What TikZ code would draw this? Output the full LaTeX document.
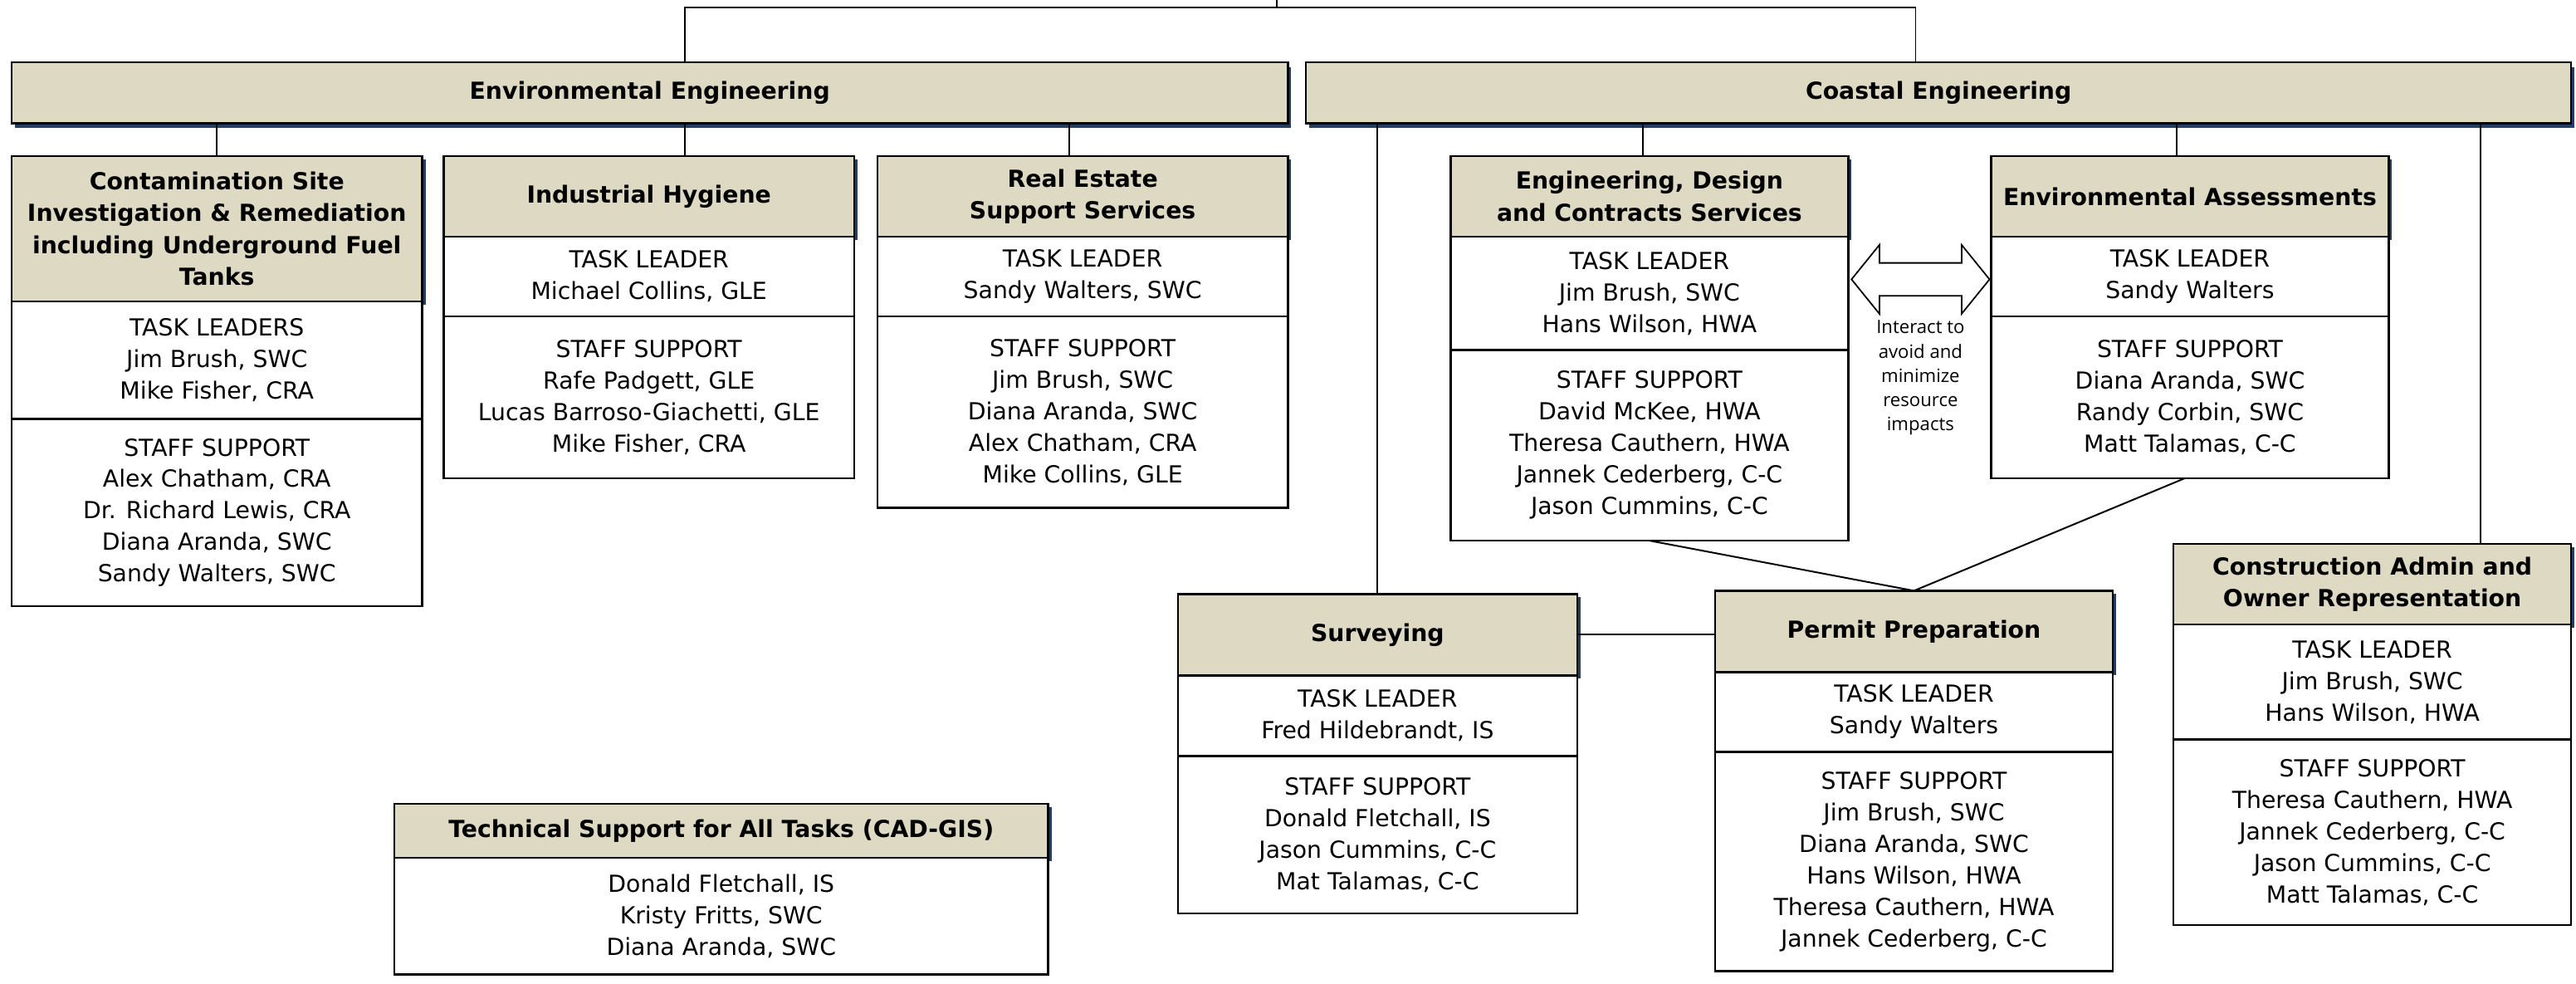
\documentclass[tikz,border=0pt]{standalone}
\usepackage{fontspec}
\setmainfont{DejaVu Sans}
\newfontfamily\notefont{Open Sans}
\usetikzlibrary{shadows}
\definecolor{hdrfill}{HTML}{DDD9C3}
\definecolor{navy}{HTML}{243F60}
\tikzset{
  box/.style={draw=black, line width=1.2pt, inner sep=2pt, outer sep=0pt, align=center, anchor=north west},
  hdr/.style={box, fill=hdrfill, font=\bfseries\fontsize{14.3}{19.4}\selectfont,
    drop shadow={fill=navy, opacity=1, shadow xshift=2pt, shadow yshift=-2pt}},
  mainhdr/.style={box, fill=hdrfill, font=\bfseries\fontsize{14.3}{19.4}\selectfont,
    drop shadow={fill=navy, opacity=1, shadow xshift=2pt, shadow yshift=-3pt}},
  body/.style={box, fill=white, font=\fontsize{14.3}{19.2}\selectfont},
  link/.style={draw=black, line width=1pt},
  note/.style={align=center, inner sep=0pt, font=\notefont\fontsize{11.2}{14.8}\selectfont},
  blockarrow/.style={draw=black, line width=0.9pt, fill=white, line join=miter},
}
\begin{document}
\begin{tikzpicture}[x=1pt, y=-1pt]
\useasboundingbox (0,0) rectangle (1568,598.3);

% top level
\node[mainhdr, minimum width=777, minimum height=37] (ee) at (7,38) {Environmental Engineering};
\node[mainhdr, minimum width=770, minimum height=37] (ce) at (795,38) {Coastal Engineering};

% Environmental Engineering children
\node[hdr, minimum width=250, minimum height=88.5] (csh) at (7,95)
  {Contamination Site\\Investigation \& Remediation\\including Underground Fuel\\Tanks};
\node[body, minimum width=250, minimum height=71.5] (cst) at (csh.south west)
  {TASK LEADERS\\Jim Brush, SWC\\Mike Fisher, CRA};
\node[body, minimum width=250, minimum height=114] (css) at (cst.south west)
  {STAFF SUPPORT\\Alex Chatham, CRA\\Dr. Richard Lewis, CRA\\Diana Aranda, SWC\\Sandy Walters, SWC};

\node[hdr, minimum width=250, minimum height=49] (ihh) at (270,95) {Industrial Hygiene};
\node[body, minimum width=250, minimum height=48.5] (iht) at (ihh.south west)
  {TASK LEADER\\Michael Collins, GLE};
\node[body, minimum width=250, minimum height=98.5] (ihs) at (iht.south west)
  {STAFF SUPPORT\\Rafe Padgett, GLE\\Lucas Barroso-Giachetti, GLE\\Mike Fisher, CRA};

\node[hdr, minimum width=250, minimum height=49] (reh) at (534,95) {Real Estate\\Support Services};
\node[body, minimum width=250, minimum height=48.5] (ret) at (reh.south west)
  {TASK LEADER\\Sandy Walters, SWC};
\node[body, minimum width=250, minimum height=116.5] (res) at (ret.south west)
  {STAFF SUPPORT\\Jim Brush, SWC\\Diana Aranda, SWC\\Alex Chatham, CRA\\Mike Collins, GLE};

% Coastal Engineering children
\node[hdr, minimum width=242, minimum height=49] (edch) at (883,95) {Engineering, Design\\and Contracts Services};
\node[body, minimum width=242, minimum height=69] (edct) at (edch.south west)
  {TASK LEADER\\Jim Brush, SWC\\Hans Wilson, HWA};
\node[body, minimum width=242, minimum height=116] (edcs) at (edct.south west)
  {STAFF SUPPORT\\David McKee, HWA\\Theresa Cauthern, HWA\\Jannek Cederberg, C-C\\Jason Cummins, C-C};

\node[hdr, minimum width=242, minimum height=49] (eah) at (1212,95) {Environmental Assessments};
\node[body, minimum width=242, minimum height=48.5] (eat) at (eah.south west)
  {TASK LEADER\\Sandy Walters};
\node[body, minimum width=242, minimum height=98.5] (eas) at (eat.south west)
  {STAFF SUPPORT\\Diana Aranda, SWC\\Randy Corbin, SWC\\Matt Talamas, C-C};

\node[hdr, minimum width=243, minimum height=49.5] (svh) at (717,361.5) {Surveying};
\node[body, minimum width=243, minimum height=49] (svt) at (svh.south west)
  {TASK LEADER\\Fred Hildebrandt, IS};
\node[body, minimum width=243, minimum height=96] (svs) at (svt.south west)
  {STAFF SUPPORT\\Donald Fletchall, IS\\Jason Cummins, C-C\\Mat Talamas, C-C};

\node[hdr, minimum width=242, minimum height=49.5] (pph) at (1044,359.5) {Permit Preparation};
\node[body, minimum width=242, minimum height=48.5] (ppt) at (pph.south west)
  {TASK LEADER\\Sandy Walters};
\node[body, minimum width=242, minimum height=133.5] (pps) at (ppt.south west)
  {STAFF SUPPORT\\Jim Brush, SWC\\Diana Aranda, SWC\\Hans Wilson, HWA\\Theresa Cauthern, HWA\\Jannek Cederberg, C-C};

\node[hdr, minimum width=242, minimum height=49] (cah) at (1323,331) {Construction Admin and\\Owner Representation};
\node[body, minimum width=242, minimum height=70] (cat) at (cah.south west)
  {TASK LEADER\\Jim Brush, SWC\\Hans Wilson, HWA};
\node[body, minimum width=242, minimum height=113] (cas) at (cat.south west)
  {STAFF SUPPORT\\Theresa Cauthern, HWA\\Jannek Cederberg, C-C\\Jason Cummins, C-C\\Matt Talamas, C-C};

\node[hdr, minimum width=398, minimum height=33] (tsh) at (240,489) {Technical Support for All Tasks (CAD-GIS)};
\node[body, minimum width=398, minimum height=71] (tsb) at (tsh.south west)
  {Donald Fletchall, IS\\Kristy Fritts, SWC\\Diana Aranda, SWC};

% interaction arrow and note
\draw[blockarrow] (1127,170) -- (1144,149) -- (1144,160) -- (1194,160) -- (1194,149) -- (1211,170)
  -- (1194,191) -- (1194,180) -- (1144,180) -- (1144,191) -- cycle;
\node[note] (note) at (1169,230) {Interact to\\avoid and\\minimize\\resource\\impacts};

% connectors
\coordinate (top) at (777,0);
\coordinate (jl) at (417,4.5);
\coordinate (jr) at (1166,4.5);
\draw[link] (top) |- (jl) -- (jl |- ee.north);
\draw[link] (top) |- (jr) -- (jr |- ce.north);

\draw[link] (csh.north |- ee.south) -- (csh.north);
\draw[link] (jl |- ee.south) -- (jl |- ihh.north);
\draw[link] ([xshift=-8pt]reh.north |- ee.south) -- ([xshift=-8pt]reh.north);

\draw[link] (svh.north |- ce.south) -- (svh.north);
\draw[link] ([xshift=-4pt]edch.north |- ce.south) -- ([xshift=-4pt]edch.north);
\draw[link] ([xshift=-8pt]eah.north |- ce.south) -- ([xshift=-8pt]eah.north);
\draw[link] ([xshift=66pt]cah.north |- ce.south) -- ([xshift=66pt]cah.north);

\draw[link] (edcs.south) -- (pph.north);
\draw[link] ([xshift=-3pt]eas.south) -- (pph.north);
\draw[link] (svh.east) -- (svh.east -| pph.west);
\end{tikzpicture}
\end{document}
